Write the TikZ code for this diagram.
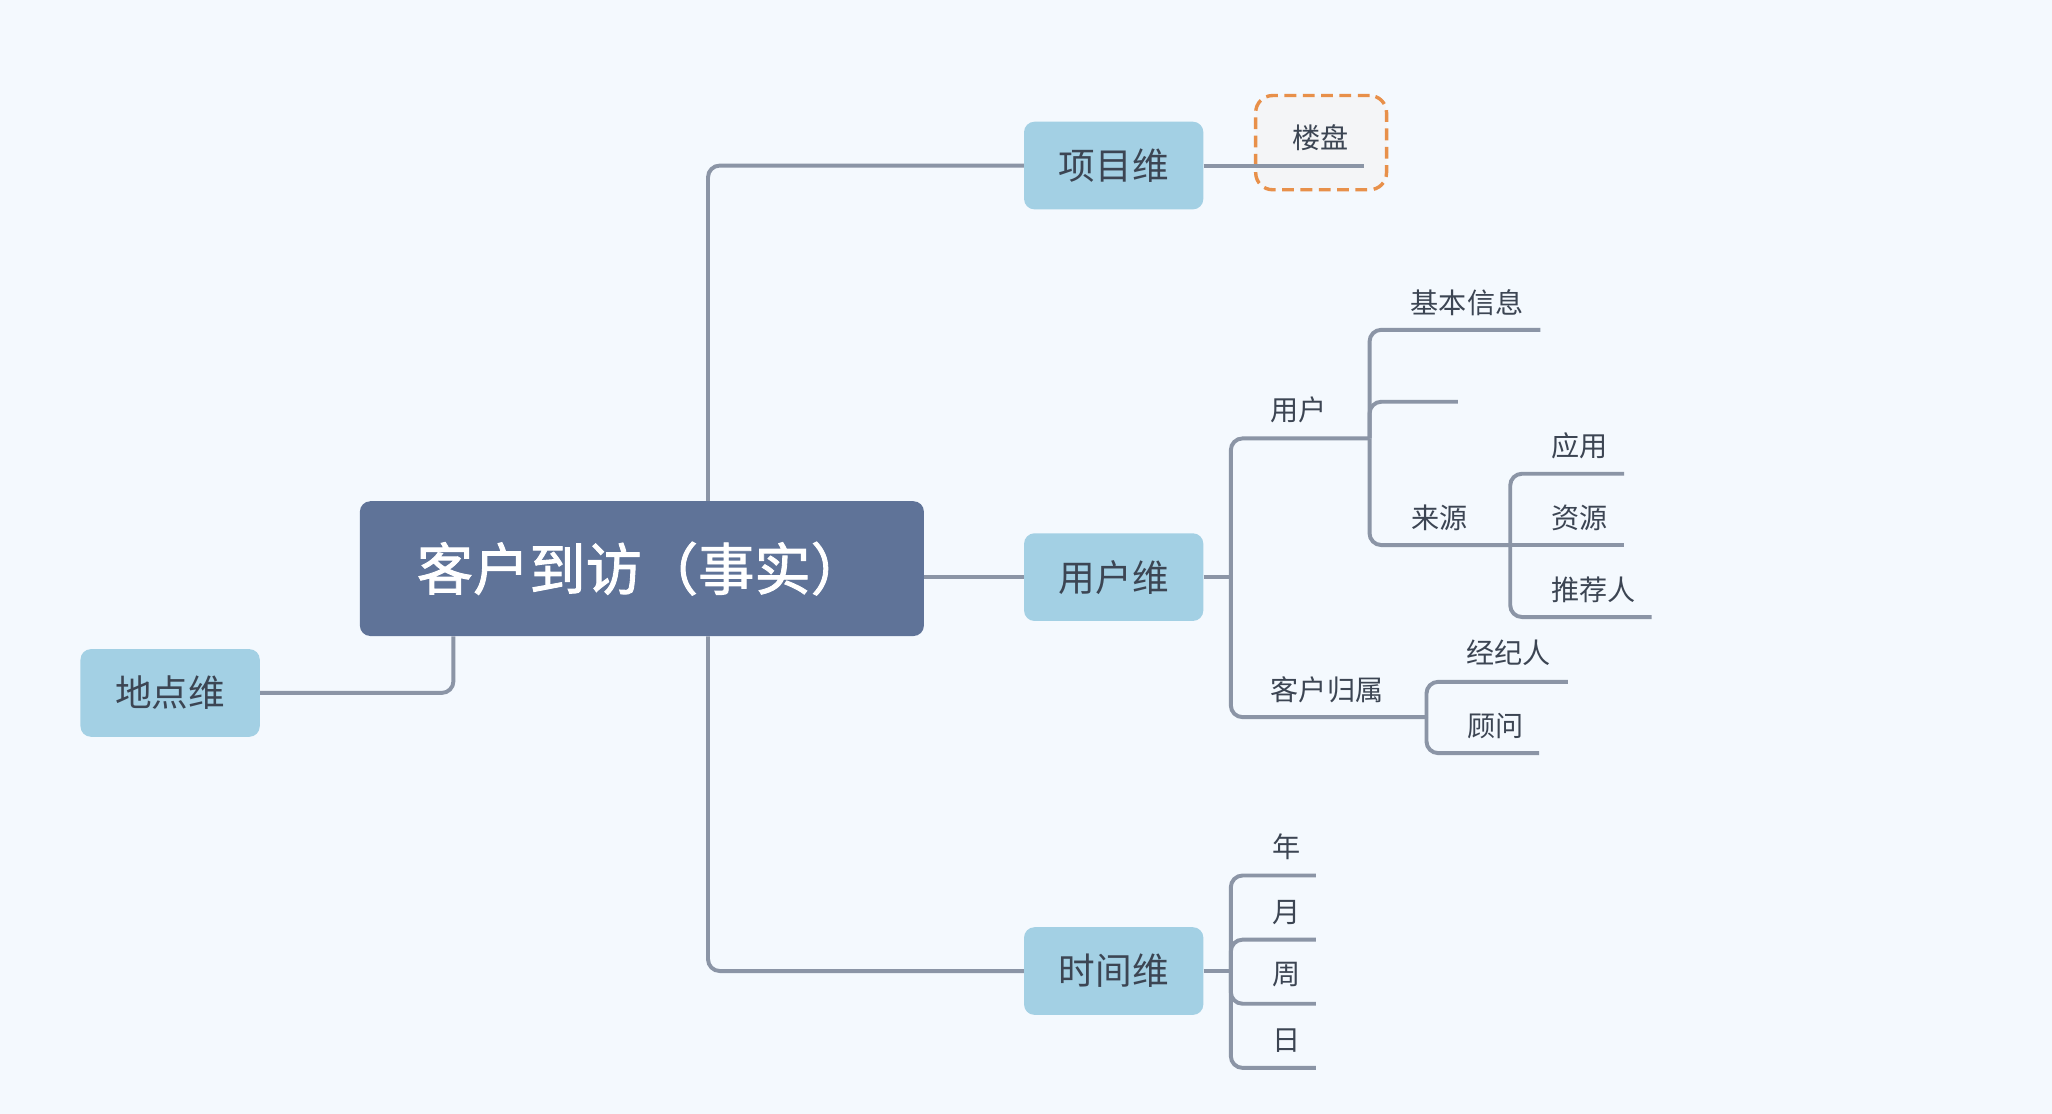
\documentclass[tikz,border=0pt]{standalone}
\usepackage{fontspec}
\setmainfont{Noto Sans CJK SC}
\newfontfamily\centfont{Noto Sans CJK SC}[FakeBold=1.6]
\definecolor{bgc}{HTML}{F4F9FE}
\definecolor{cfill}{HTML}{5F7398}
\definecolor{mfill}{HTML}{A3D0E4}
\definecolor{linec}{HTML}{8B95A6}
\definecolor{txt}{HTML}{3C4553}
\definecolor{selc}{HTML}{E8904A}
\definecolor{selfill}{HTML}{F4F5F7}
\begin{document}
\begin{tikzpicture}[x=1pt,y=-1pt,
  centr/.style={rounded corners=8pt, fill=cfill, text=white, inner sep=0pt,
    minimum width=431pt, minimum height=103pt,
    font=\centfont\fontsize{43}{48}\selectfont},
  mainn/.style={rounded corners=8pt, fill=mfill, text=txt, inner sep=0pt,
    minimum width=137pt, minimum height=67pt,
    font=\fontsize{28}{32}\selectfont},
  lbl/.style={text=txt, inner sep=0pt, font=\fontsize{21.5}{24}\selectfont},
  conn/.style={draw=linec, line width=3pt, rounded corners=9pt},
  selbox/.style={draw=selc, fill=selfill, line width=2.6pt, dash pattern=on 9pt off 5pt,
    rounded corners=13pt, minimum width=100pt, minimum height=72pt, inner sep=0pt}
]
\useasboundingbox (0,0) rectangle (1568,851);
\fill[bgc] (0,0) rectangle (1568,851);

% trunk helpers
\coordinate (trunk) at (541,0);
\coordinate (dtrunk) at (346.5,0);

% main nodes
\node[centr] (c) at (490.5,434.5) {客户到访（事实）};
\node[mainn] (xm) at (851,126.5) {项目维};
\node[mainn] (yh) at (851,441) {用户维};
\node[mainn] (sj) at (851,742) {时间维};
\node[mainn] (dd) at (130,529.5) {地点维};

% main connectors
\draw[conn] (c.north -| trunk) |- (xm.west);
\draw[conn] (c.south -| trunk) |- (sj.west);
\draw[conn] (c.east |- yh.west) -- (yh.west);
\draw[conn] (c.south -| dtrunk) |- (dd.east);

% project dimension
\node[selbox] (sel) at (1009.5,109) {};
\coordinate (lpe) at (1042,126.5);
\draw[conn] (xm.east) -- (lpe);
\node[lbl] (lp) at (1009,105.5) {楼盘};

% user dimension
\coordinate (yhj) at (940.5,441);
\coordinate (yhu) at (1046.5,335);
\coordinate (khj) at (1090,548);
\draw[conn] (yh.east) -- (yhj);
\draw[conn] (yhj) |- (yhu);
\draw[conn] (yhj) |- (khj);
\node[lbl] (yu) at (992,313) {用户};
\node[lbl] (kh) at (1014,527) {客户归属};

\coordinate (jbe) at (1177,252);
\coordinate (kxe) at (1114,307);
\coordinate (lyj) at (1154,416.5);
\draw[conn] (yhu) |- (jbe);
\draw[conn] (yhu) |- (kxe);
\draw[conn] (yhu) |- (lyj);
\node[lbl] (jb) at (1121,231) {基本信息};
\node[lbl] (ly) at (1100,396) {来源};

\coordinate (yye) at (1241,362);
\coordinate (zye) at (1241,416.5);
\coordinate (tje) at (1262,471.5);
\draw[conn] (lyj) |- (yye);
\draw[conn] (lyj) -- (zye);
\draw[conn] (lyj) |- (tje);
\node[lbl] (yy) at (1207,341) {应用};
\node[lbl] (zy) at (1207,396) {资源};
\node[lbl] (tj) at (1217.5,451) {推荐人};

\coordinate (jje) at (1198,521);
\coordinate (gwe) at (1176,575.5);
\draw[conn] (khj) |- (jje);
\draw[conn] (khj) |- (gwe);
\node[lbl] (jj) at (1153,499) {经纪人};
\node[lbl] (gw) at (1143,555) {顾问};

% time dimension
\coordinate (sjj) at (940.5,742);
\draw[conn] (sj.east) -- (sjj);
\coordinate (ne) at (1005.5,669);
\coordinate (ye) at (1005.5,718);
\coordinate (ze) at (1005.5,767);
\coordinate (re) at (1005.5,816);
\draw[conn] (sjj) |- (ne);
\draw[conn] (sjj) |- (ye);
\draw[conn] (sjj) |- (ze);
\draw[conn] (sjj) |- (re);
\node[lbl] (n) at (983,647) {年};
\node[lbl] (y) at (983,697) {月};
\node[lbl] (z) at (983,745) {周};
\node[lbl] (r) at (983,795) {日};
\end{tikzpicture}
\end{document}
